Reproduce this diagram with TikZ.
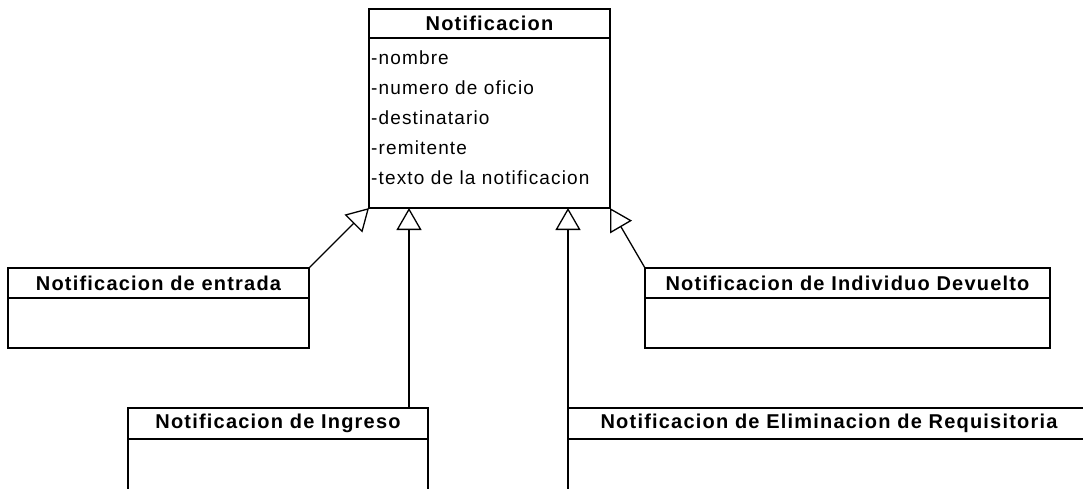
\documentclass[tikz,border=0pt]{standalone}
\usepackage{fontspec}
\setmainfont{Liberation Sans}
\newfontfamily\umlfont[LetterSpace=6]{Liberation Sans}
\usetikzlibrary{
  arrows.meta,
  positioning,
  calc
}
\tikzset{
  classhead/.style={
    draw=black,
    fill=white,
    line width=1.3pt,
    inner sep=0pt,
    outer sep=0pt,
    anchor=north west,
    font=\umlfont\fontsize{20}{22}\selectfont\bfseries
  },
  classbody/.style={
    draw=black,
    fill=white,
    line width=1.3pt,
    inner sep=0pt,
    outer sep=0pt
  },
  attrlist/.style={
    align=left,
    anchor=north west,
    inner sep=0pt,
    font=\umlfont\fontsize{19}{30}\selectfont
  },
  genarrow/.style={-{Triangle[open,length=22pt,width=25pt]},line width=1.3pt,draw=black}
}

\begin{document}
\begin{tikzpicture}[x=1pt,y=-1pt]
  \useasboundingbox (0,0) rectangle (1083,488);
  \fill[white] (0,0) rectangle (1083,488);
  \clip (0,0) rectangle (1083,488);

  % base class
  \node[classhead, minimum width=241pt, minimum height=29pt] (baseh) at (369,9) {Notificacion};
  \node[classbody, below=0pt of baseh, minimum width=241pt, minimum height=170pt] (baseb) {};
  \node[attrlist] (attr) at ($(baseb.north west)+(2,13)$)
    {-nombre\\-numero de oficio\\-destinatario\\-remitente\\-texto de la notificacion};

  % subclasses
  \node[classhead, minimum width=301pt, minimum height=30pt] (enth) at (8,268) {Notificacion de entrada};
  \node[classbody, below=0pt of enth, minimum width=301pt, minimum height=50pt] (entb) {};
  \node[classhead, minimum width=405pt, minimum height=30pt] (indh) at (645,268) {Notificacion de Individuo Devuelto};
  \node[classbody, below=0pt of indh, minimum width=405pt, minimum height=50pt] (indb) {};
  \node[classhead, minimum width=300pt, minimum height=31pt] (ingh) at (128,408) {Notificacion de Ingreso};
  \node[classbody, below=0pt of ingh, minimum width=300pt, minimum height=80pt] (ingb) {};
  \node[classhead, minimum width=522pt, minimum height=31pt] (elih) at (568,408) {Notificacion de Eliminacion de Requisitoria};
  \node[classbody, below=0pt of elih, minimum width=522pt, minimum height=80pt] (elib) {};

  % generalizations
  \coordinate (ingtop) at ($(ingh.north east)+(-19,0)$);
  \draw[genarrow] (enth.north east) -- (baseb.south west);
  \draw[genarrow] (indh.north west) -- (baseb.south east);
  \draw[genarrow] (ingtop) -- (ingtop |- baseb.south);
  \draw[genarrow] (elih.north west) -- (elih.north west |- baseb.south);
\end{tikzpicture}
\end{document}
